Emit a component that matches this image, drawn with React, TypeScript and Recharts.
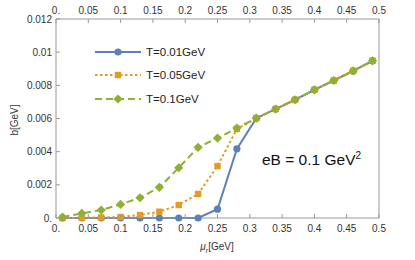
import React from "react";
import { LineChart, Line, XAxis, YAxis, Legend } from "recharts";

const muValues = [0.01, 0.04, 0.07, 0.1, 0.13, 0.16, 0.19, 0.22, 0.25, 0.28, 0.31, 0.34, 0.37, 0.4, 0.43, 0.46, 0.49];
const bT001 = [0, 0, 0, 0, 0, 0, 0, 0, 0.00053, 0.00417, 0.00602, 0.00657, 0.00713, 0.00773, 0.00829, 0.00887, 0.00948];
const bT005 = [0, 0.00001, 0.00003, 0.00006, 0.00018, 0.00038, 0.00078, 0.00145, 0.00313, 0.00537, 0.00602, 0.00657, 0.00713, 0.00773, 0.00829, 0.00887, 0.00948];
const bT01 = [0.00005, 0.00028, 0.00048, 0.00082, 0.00122, 0.00185, 0.00303, 0.00426, 0.00482, 0.00542, 0.00602, 0.00657, 0.00713, 0.00773, 0.00829, 0.00887, 0.00948];

const xTicks = [0, 0.05, 0.1, 0.15, 0.2, 0.25, 0.3, 0.35, 0.4, 0.45, 0.5];
const xTickLabels = ["0.", "0.05", "0.1", "0.15", "0.2", "0.25", "0.3", "0.35", "0.4", "0.45", "0.5"];
const yTicks = [0, 0.002, 0.004, 0.006, 0.008, 0.01, 0.012];
const yTickLabels = ["0.", "0.002", "0.004", "0.006", "0.008", "0.01", "0.012"];

const seriesNames = ["T=0.01GeV", "T=0.05GeV", "T=0.1GeV"];
const colors = ["#5E81B5", "#E19C24", "#8FB032"];
const dashes = ["", "2.5 2.5", "7 4"];

const data = muValues.map((mu, i) => ({ mu, a: bT001[i], b: bT005[i], c: bT01[i] }));

const FONT = "'Liberation Sans', Arial, sans-serif";
const TICK_COLOR = "#999";
const LABEL_COLOR = "#333";

const fmt = (v: number, list: number[], labels: string[]) => {
  const idx = list.findIndex((t) => Math.abs(t - v) < 1e-9);
  return idx >= 0 ? labels[idx] : String(v);
};

const makeTick = (side: "bottom" | "top" | "left" | "right") => (props: any) => {
  const { x, y, payload } = props;
  const v = payload.value;
  if (side === "bottom" || side === "top") {
    const label = fmt(v, xTicks, xTickLabels);
    const dir = side === "bottom" ? -1 : 1;
    return (
      <g>
        <line x1={x} y1={y} x2={x} y2={y + dir * 4} stroke={TICK_COLOR} strokeWidth={1} />
        <text x={x} y={side === "bottom" ? y + 13.5 : y - 5.5} textAnchor="middle" fontSize={10} fill={LABEL_COLOR} fontFamily={FONT}>
          {label}
        </text>
      </g>
    );
  }
  const label = fmt(v, yTicks, yTickLabels);
  const dir = side === "left" ? 1 : -1;
  return (
    <g>
      <line x1={x} y1={y} x2={x + dir * 4} y2={y} stroke={TICK_COLOR} strokeWidth={1} />
      <text x={side === "left" ? x - 4 : x + 2} y={y + 3.5} textAnchor={side === "left" ? "end" : "start"} fontSize={10} fill={LABEL_COLOR} fontFamily={FONT}>
        {label}
      </text>
    </g>
  );
};

const CircleDot = (props: any) => {
  const { cx, cy } = props;
  if (cx == null || cy == null) return null;
  return <circle key={`c${cx}`} cx={cx} cy={cy} r={3.6} fill={colors[0]} />;
};
const SquareDot = (props: any) => {
  const { cx, cy } = props;
  if (cx == null || cy == null) return null;
  return <rect key={`s${cx}`} x={cx - 3.2} y={cy - 3.2} width={6.4} height={6.4} fill={colors[1]} />;
};
const DiamondDot = (props: any) => {
  const { cx, cy } = props;
  if (cx == null || cy == null) return null;
  const r = 4.6;
  return <polygon key={`d${cx}`} points={`${cx},${cy - r} ${cx + r},${cy} ${cx},${cy + r} ${cx - r},${cy}`} fill={colors[2]} />;
};

const markerFor = (i: number, cx: number, cy: number) => {
  if (i === 0) return <circle cx={cx} cy={cy} r={3.6} fill={colors[0]} />;
  if (i === 1) return <rect x={cx - 3.2} y={cy - 3.2} width={6.4} height={6.4} fill={colors[1]} />;
  const r = 4.6;
  return <polygon points={`${cx},${cy - r} ${cx + r},${cy} ${cx},${cy + r} ${cx - r},${cy}`} fill={colors[2]} />;
};

const LegendContent = () => (
  <div style={{ fontFamily: FONT, fontSize: 11.5, color: "#222" }}>
    {seriesNames.map((name, i) => (
      <div key={name} style={{ display: "flex", alignItems: "center", height: 23.5 }}>
        <svg width={48} height={12} style={{ display: "block" }}>
          <line x1={1} y1={6} x2={47} y2={6} stroke={colors[i]} strokeWidth={2} strokeDasharray={dashes[i] || undefined} />
          {markerFor(i, 24, 6)}
        </svg>
        <span style={{ marginLeft: 4 }}>{name}</span>
      </div>
    ))}
  </div>
);

export default function App() {
  return (
    <div style={{ position: "absolute", left: 0, top: 0, width: 415, height: 260, background: "#fff" }}>
      <LineChart width={415} height={260} data={data} margin={{ top: 0, right: 0, bottom: 0, left: 0 }}>
        <XAxis
          xAxisId="bottom"
          dataKey="mu"
          type="number"
          domain={[0, 0.5]}
          ticks={xTicks}
          orientation="bottom"
          height={42}
          tickSize={0}
          tickMargin={0}
          tickLine={false}
          axisLine={{ stroke: TICK_COLOR }}
          tick={makeTick("bottom")}
          interval={0}
        />
        <XAxis
          xAxisId="top"
          dataKey="mu"
          type="number"
          domain={[0, 0.5]}
          ticks={xTicks}
          orientation="top"
          height={19}
          tickSize={0}
          tickMargin={0}
          tickLine={false}
          axisLine={{ stroke: TICK_COLOR }}
          tick={makeTick("top")}
          interval={0}
        />
        <YAxis
          yAxisId="left"
          type="number"
          domain={[0, 0.012]}
          ticks={yTicks}
          orientation="left"
          width={56}
          tickSize={0}
          tickMargin={0}
          tickLine={false}
          axisLine={{ stroke: TICK_COLOR }}
          tick={makeTick("left")}
          interval={0}
        />
        <YAxis
          yAxisId="right"
          type="number"
          domain={[0, 0.012]}
          ticks={yTicks}
          orientation="right"
          width={36}
          tickSize={0}
          tickMargin={0}
          tickLine={false}
          axisLine={{ stroke: TICK_COLOR }}
          tick={makeTick("right")}
          interval={0}
        />
        <Line xAxisId="bottom" yAxisId="left" dataKey="a" stroke={colors[0]} strokeWidth={2} dot={CircleDot} activeDot={false} isAnimationActive={false} />
        <Line xAxisId="bottom" yAxisId="left" dataKey="b" stroke={colors[1]} strokeWidth={2} strokeDasharray={dashes[1]} dot={SquareDot} activeDot={false} isAnimationActive={false} />
        <Line xAxisId="bottom" yAxisId="left" dataKey="c" stroke={colors[2]} strokeWidth={2} strokeDasharray={dashes[2]} dot={DiamondDot} activeDot={false} isAnimationActive={false} />
        <Legend
          layout="vertical"
          align="center"
          verticalAlign="middle"
          content={<LegendContent />}
          wrapperStyle={{ position: "absolute", left: 94, top: 40, width: 130, height: 75 }}
        />
      </LineChart>
      <div style={{ position: "absolute", left: 262, top: 151, fontFamily: FONT, fontSize: 15.5, color: "#111", whiteSpace: "nowrap", lineHeight: "18px" }}>
        eB = 0.1 GeV<sup style={{ fontSize: 10, verticalAlign: 0, position: "relative", top: -6 }}>2</sup>
      </div>
      <div
        style={{
          position: "absolute",
          left: 14,
          top: 120,
          transform: "translate(-50%, -50%) rotate(-90deg)",
          fontFamily: FONT,
          fontSize: 10,
          color: LABEL_COLOR,
          whiteSpace: "nowrap",
        }}
      >
        b[GeV]
      </div>
      <div
        style={{
          position: "absolute",
          left: 217,
          top: 247,
          transform: "translate(-50%, -50%)",
          fontFamily: FONT,
          fontSize: 10,
          color: LABEL_COLOR,
          whiteSpace: "nowrap",
        }}
      >
        <i>μ</i>
        <sub style={{ fontSize: 7, fontStyle: "italic" }}>r</sub>[GeV]
      </div>
    </div>
  );
}
